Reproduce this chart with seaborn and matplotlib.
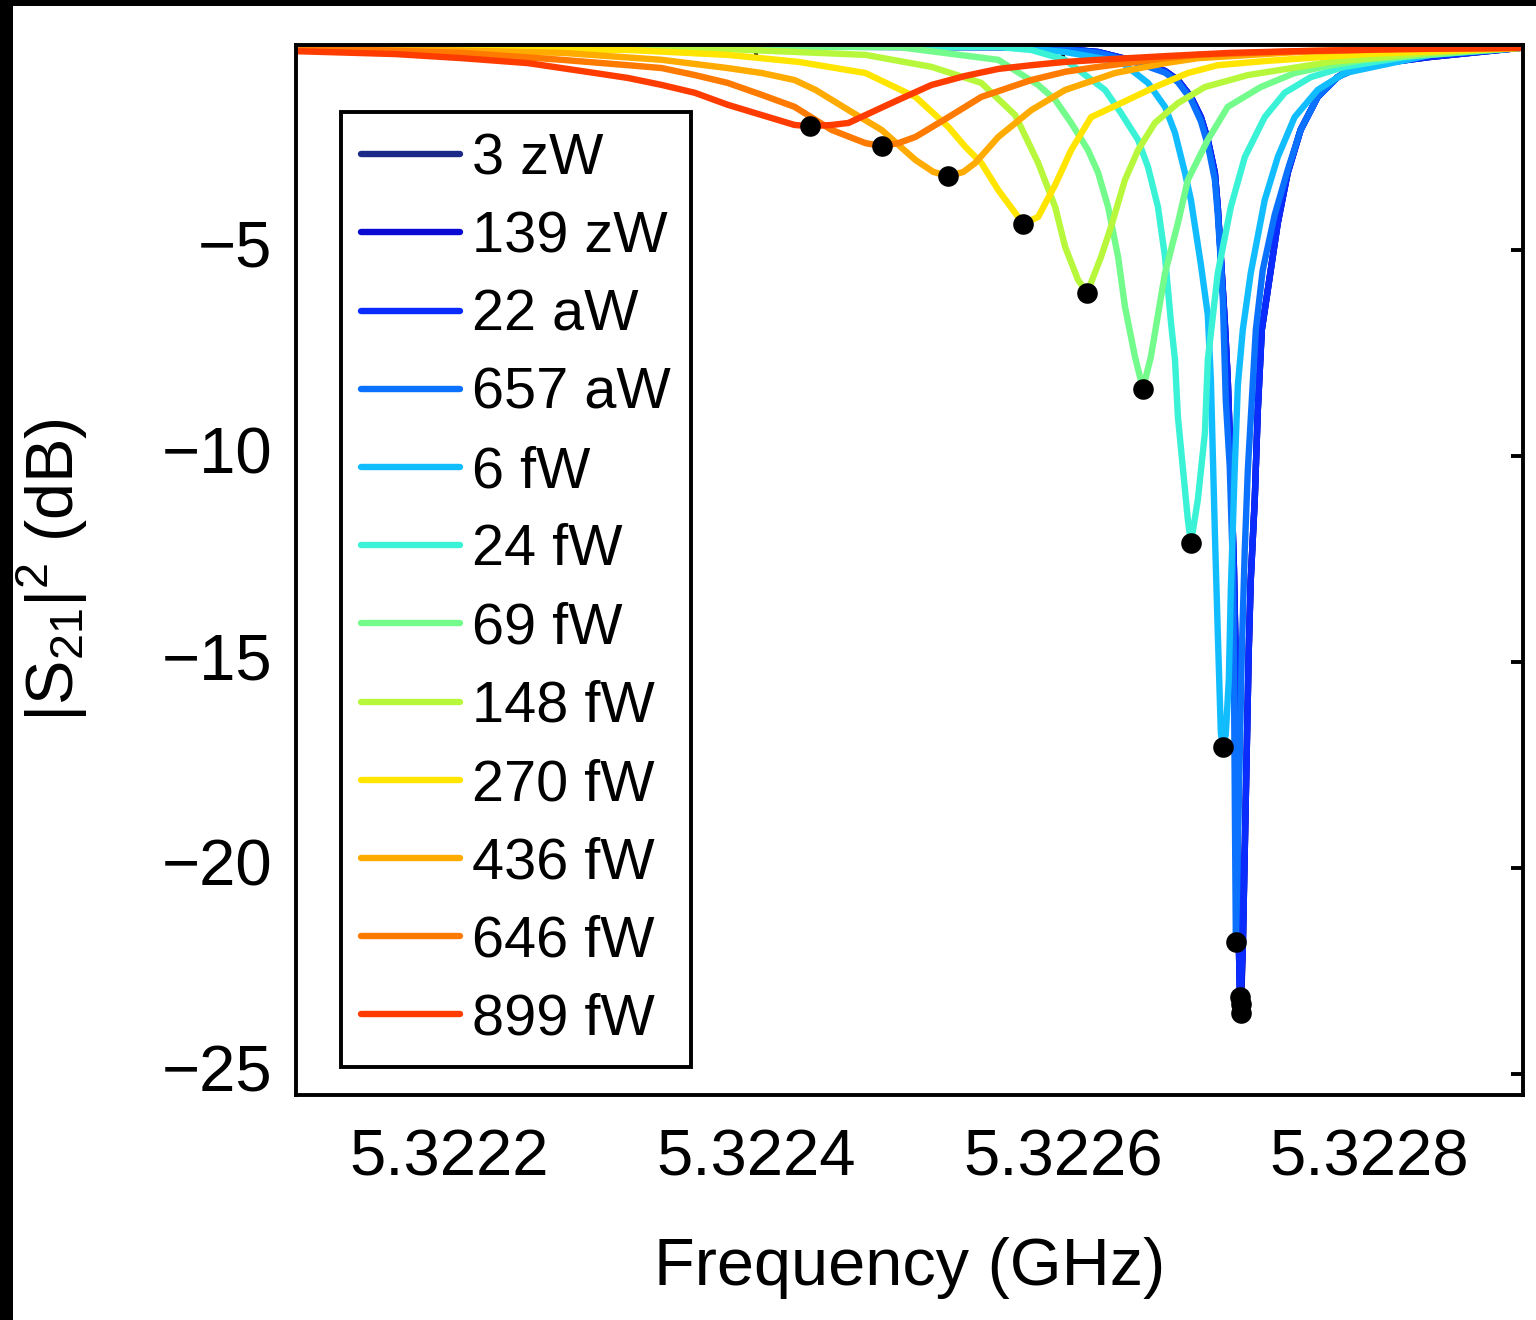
import matplotlib
matplotlib.use("Agg")
import matplotlib.pyplot as plt
import seaborn as sns
import pandas as pd
from matplotlib.patches import Rectangle

# ---------------- data ----------------
powers = ["3 zW", "139 zW", "22 aW", "657 aW", "6 fW", "24 fW", "69 fW",
          "148 fW", "270 fW", "436 fW", "646 fW", "899 fW"]
colors = ["#1b2a88", "#0a0ad2", "#0a2cff", "#0a72ff", "#12bdff", "#3af2d6",
          "#73fb8b", "#b7f83c", "#ffe500", "#ffab00", "#ff7a00", "#ff3c00"]

f_dark = [5.3221, 5.3225579, 5.3226015, 5.3226230, 5.3226490, 5.3226666, 5.3226750,
          5.3226835, 5.3226900, 5.3226945, 5.3226991, 5.3227010, 5.3227030, 5.3227056,
          5.3227075, 5.3227095, 5.3227115, 5.3227128, 5.3227134, 5.3227141, 5.3227147,
          5.3227154, 5.3227160, 5.3227173, 5.3227186, 5.3227199, 5.3227212, 5.3227225,
          5.3227251, 5.3227271, 5.3227297, 5.3227336, 5.3227401, 5.3227466, 5.3227550,
          5.3227661, 5.3227791, 5.3227902, 5.3228396, 5.3228982]
db_3zW = [-0.05, -0.08, -0.13, -0.20, -0.44, -0.66, -0.88, -1.29, -1.78, -2.33, -3.13,
          -3.96, -5.17, -6.77, -8.15, -10.26, -12.68, -15.11, -17.12, -19.55, -21.80,
          -23.00, -23.50, -21.97, -19.55, -17.12, -14.70, -13.00, -11.06, -8.88, -6.94,
          -5.97, -4.35, -3.13, -2.09, -1.29, -0.81, -0.56, -0.32, -0.10]
db_139zW = [-0.05, -0.08, -0.13, -0.20, -0.44, -0.66, -0.88, -1.29, -1.78, -2.33, -3.13,
            -3.96, -5.17, -6.77, -8.15, -10.26, -12.68, -15.11, -17.12, -19.55, -21.80,
            -23.05, -23.30, -21.97, -19.55, -17.12, -14.70, -13.00, -11.06, -8.88, -6.94,
            -5.97, -4.35, -3.13, -2.09, -1.29, -0.81, -0.56, -0.32, -0.10]
db_22aW = [-0.05, -0.08, -0.13, -0.20, -0.44, -0.66, -0.88, -1.29, -1.78, -2.33, -3.13,
           -3.96, -5.17, -6.77, -8.15, -10.26, -12.68, -15.11, -17.12, -19.55, -21.80,
           -23.13, -22.90, -21.90, -19.55, -17.12, -14.70, -13.00, -11.06, -8.88, -6.94,
           -5.97, -4.35, -3.13, -2.09, -1.29, -0.81, -0.56, -0.32, -0.10]

f_657aW = [5.3221, 5.3225579, 5.3226015, 5.3226230, 5.3226490, 5.3226666, 5.3226750,
           5.3226835, 5.3226900, 5.3226945, 5.3226991, 5.3227010, 5.3227030, 5.3227043,
           5.3227062, 5.3227088, 5.3227108, 5.3227115, 5.3227121, 5.3227128, 5.3227141,
           5.3227154, 5.3227167, 5.3227186, 5.3227206, 5.3227232, 5.3227258, 5.3227303,
           5.3227381, 5.3227466, 5.3227550, 5.3227661, 5.3227791, 5.3227967, 5.3228396,
           5.3228982]
db_657aW = [-0.05, -0.08, -0.14, -0.22, -0.47, -0.70, -0.93, -1.35, -1.88, -2.45, -3.30,
            -4.15, -5.30, -6.21, -8.64, -10.26, -12.68, -15.11, -18.33, -21.80, -19.55,
            -17.12, -14.70, -12.27, -10.33, -8.64, -6.94, -5.49, -4.15, -3.06, -2.09,
            -1.29, -0.81, -0.52, -0.27, -0.10]

f_6fW = [5.3221, 5.3225579, 5.3226015, 5.3226379, 5.3226555, 5.3226666, 5.3226731,
         5.3226796, 5.3226835, 5.3226900, 5.3226945, 5.3226965, 5.3226991, 5.3227010,
         5.3227030, 5.3227043, 5.3227062, 5.3227082, 5.3227095, 5.3227121, 5.3227141,
         5.3227173, 5.3227225, 5.3227316, 5.3227401, 5.3227511, 5.3227661, 5.3227837,
         5.3228396, 5.3228982]
db_6fW = [-0.05, -0.05, -0.20, -0.44, -0.95, -1.53, -2.16, -3.13, -3.79, -5.36, -6.58,
          -8.15, -11.86, -14.29, -16.71, -17.07, -16.76, -15.42, -13.24, -10.26, -8.27,
          -6.94, -5.56, -3.79, -2.75, -1.78, -1.12, -0.71, -0.27, -0.10]

f_24fW = [5.3221, 5.3225579, 5.3225794, 5.3226015, 5.3226164, 5.3226275, 5.3226379,
          5.3226490, 5.3226555, 5.3226620, 5.3226666, 5.3226705, 5.3226731, 5.3226750,
          5.3226815, 5.3226835, 5.3226880, 5.3226926, 5.3226945, 5.3227010, 5.3227095,
          5.3227186, 5.3227316, 5.3227446, 5.3227616, 5.3227837, 5.3228396, 5.3228982]
db_24fW = [-0.05, -0.08, -0.15, -0.39, -0.81, -1.12, -1.68, -2.33, -2.99, -3.96, -5.17,
           -6.77, -7.67, -9.05, -11.55, -12.11, -11.06, -9.44, -7.67, -5.56, -3.96,
           -2.75, -1.78, -1.19, -0.81, -0.56, -0.22, -0.10]

f_69fW = [5.3221, 5.3224928, 5.3225579, 5.3225839, 5.3225950, 5.3226054, 5.3226164,
          5.3226230, 5.3226295, 5.3226360, 5.3226405, 5.3226470, 5.3226522, 5.3226574,
          5.3226666, 5.3226750, 5.3226815, 5.3226945, 5.3227075, 5.3227290, 5.3227511,
          5.3227726, 5.3227967, 5.3228618, 5.3228982]
db_69fW = [-0.05, -0.08, -0.39, -1.00, -1.36, -1.92, -2.58, -3.13, -3.96, -5.17, -6.38,
           -7.59, -8.37, -7.59, -5.56, -4.35, -3.30, -2.33, -1.53, -1.05, -0.71, -0.54,
           -0.39, -0.20, -0.10]

f_148fW = [5.3221, 5.3223627, 5.3224713, 5.3225143, 5.3225468, 5.3225689, 5.3225839,
           5.3225950, 5.3226015, 5.3226099, 5.3226158, 5.3226249, 5.3226314, 5.3226405,
           5.3226490, 5.3226600, 5.3226750, 5.3226926, 5.3227206, 5.3227746, 5.3228396,
           5.3228982]
db_148fW = [-0.05, -0.10, -0.27, -0.56, -0.95, -1.73, -2.89, -3.96, -4.93, -5.73, -6.04,
            -5.17, -4.44, -3.30, -2.58, -1.92, -1.44, -1.05, -0.76, -0.44, -0.22, -0.10]

f_270fW = [5.3221, 5.3223165, 5.3223815, 5.3224277, 5.3224713, 5.3225039, 5.3225254,
           5.3225364, 5.3225468, 5.3225579, 5.3225742, 5.3225839, 5.3225950, 5.3226054,
           5.3226184, 5.3226379, 5.3226600, 5.3226815, 5.3227010, 5.3227316, 5.3227967,
           5.3228982]
db_270fW = [-0.08, -0.15, -0.27, -0.44, -0.71, -1.29, -2.02, -2.50, -2.89, -3.55, -4.37,
            -4.20, -3.42, -2.58, -1.78, -1.44, -1.05, -0.71, -0.52, -0.42, -0.25, -0.10]

f_436fW = [5.3221, 5.3222735, 5.3223386, 5.3223815, 5.3224037, 5.3224251, 5.3224388,
           5.3224603, 5.3224818, 5.3225039, 5.3225156, 5.3225254, 5.3225351, 5.3225429,
           5.3225579, 5.3225794, 5.3226015, 5.3226340, 5.3226666, 5.3226880, 5.3227531,
           5.3228182, 5.3228982]
db_436fW = [-0.08, -0.22, -0.39, -0.59, -0.71, -0.88, -1.12, -1.61, -2.09, -2.82, -3.11,
            -3.21, -3.11, -2.89, -2.26, -1.61, -1.12, -0.71, -0.47, -0.35, -0.20, -0.13,
            -0.10]

f_646fW = [5.3221, 5.3222085, 5.3222735, 5.3223165, 5.3223386, 5.3223601, 5.3223815,
           5.3224037, 5.3224251, 5.3224492, 5.3224713, 5.3224818, 5.3224928, 5.3225039,
           5.3225254, 5.3225468, 5.3225794, 5.3226015, 5.3226230, 5.3226666, 5.3226880,
           5.3227531, 5.3228182, 5.3228982]
db_646fW = [-0.10, -0.22, -0.39, -0.52, -0.59, -0.76, -0.95, -1.24, -1.53, -2.09, -2.41,
            -2.48, -2.41, -2.26, -1.78, -1.29, -0.88, -0.68, -0.56, -0.35, -0.27, -0.18,
            -0.13, -0.10]

f_899fW = [5.3221, 5.3221649, 5.3222085, 5.3222514, 5.3222950, 5.3223165, 5.3223386,
           5.3223601, 5.3223815, 5.3224037, 5.3224251, 5.3224349, 5.3224492, 5.3224603,
           5.3224713, 5.3224928, 5.3225143, 5.3225364, 5.3225579, 5.3225794, 5.3226015,
           5.3226230, 5.3226666, 5.3227095, 5.3227531, 5.3228182, 5.3228982]
db_899fW = [-0.18, -0.25, -0.35, -0.47, -0.71, -0.83, -1.00, -1.19, -1.48, -1.73, -1.97,
            -2.00, -1.97, -1.92, -1.73, -1.36, -1.00, -0.78, -0.61, -0.52, -0.44, -0.39,
            -0.30, -0.22, -0.18, -0.13, -0.10]

# resonance minima (black dots)
min_freq = [5.3227160, 5.3227160, 5.3227154, 5.3227128, 5.3227043, 5.3226835,
            5.3226522, 5.3226158, 5.3225742, 5.3225254, 5.3224818, 5.3224349]
min_db = [-23.50, -23.30, -23.13, -21.80, -17.07, -12.11, -8.37, -6.04, -4.37,
          -3.21, -2.48, -2.00]

xtick_vals = [5.3222, 5.3224, 5.3226, 5.3228]
xtick_labels = ["5.3222", "5.3224", "5.3226", "5.3228"]
ytick_vals = [-25, -20, -15, -10, -5]
ytick_labels = ["\u221225", "\u221220", "\u221215", "\u221210", "\u22125"]

curves = [
    ("3 zW", f_dark, db_3zW), ("139 zW", f_dark, db_139zW), ("22 aW", f_dark, db_22aW),
    ("657 aW", f_657aW, db_657aW), ("6 fW", f_6fW, db_6fW), ("24 fW", f_24fW, db_24fW),
    ("69 fW", f_69fW, db_69fW), ("148 fW", f_148fW, db_148fW),
    ("270 fW", f_270fW, db_270fW), ("436 fW", f_436fW, db_436fW),
    ("646 fW", f_646fW, db_646fW), ("899 fW", f_899fW, db_899fW),
]
rows = []
for name, fs, ds in curves:
    for x, y in zip(fs, ds):
        rows.append({"power": name, "freq": x, "s21": y})
df = pd.DataFrame(rows)

# ---------------- style ----------------
sns.set_style("white")
plt.rcParams["font.family"] = ["Liberation Sans", "DejaVu Sans"]
plt.rcParams["mathtext.fontset"] = "custom"
plt.rcParams["mathtext.rm"] = "Liberation Sans"
plt.rcParams["mathtext.it"] = "Liberation Sans:italic"
plt.rcParams["mathtext.default"] = "regular"
for key in ["text.color", "axes.labelcolor", "xtick.color", "ytick.color",
            "axes.edgecolor"]:
    plt.rcParams[key] = "black"

fig = plt.figure(figsize=(15.36, 13.2), dpi=100)
fig.patch.set_facecolor("white")
fig.patches.append(Rectangle((0, 1 - 6 / 1320), 1, 6 / 1320, transform=fig.transFigure,
                             facecolor="black", edgecolor="none", zorder=0))
fig.patches.append(Rectangle((0, 0), 13 / 1536, 1, transform=fig.transFigure,
                             facecolor="black", edgecolor="none", zorder=0))

ax = fig.add_axes([296 / 1536, 1 - 1095 / 1320, 1227 / 1536, 1050 / 1320])

sns.lineplot(data=df, x="freq", y="s21", hue="power", hue_order=powers,
             palette=colors, estimator=None, sort=False, linewidth=4.6, ax=ax)
for ln in ax.lines:
    ln.set_linewidth(4.6)
    ln.set_solid_joinstyle("round")
sns.scatterplot(x=min_freq, y=min_db, color="black", s=220, linewidth=0,
                zorder=5, ax=ax, legend=False)

ax.set_xlim(5.3221, 5.3229)
ax.set_ylim(-25.5, -0.03)
ax.set_xticks(xtick_vals)
ax.set_xticklabels(xtick_labels)
ax.set_yticks(ytick_vals)
ax.set_yticklabels(ytick_labels)
ax.tick_params(axis="both", direction="in", length=9, width=2.8, labelsize=47,
               top=True, right=True, colors="black")
ax.tick_params(axis="y", pad=17)
ax.tick_params(axis="x", pad=24)
for lbl in ax.get_yticklabels():
    lbl.set_verticalalignment("center")
for s in ax.spines.values():
    s.set_linewidth(2.8)
    s.set_color("black")
    s.set_zorder(6)

ax.set_xlabel("Frequency (GHz)", fontsize=48, color="black")
ax.set_ylabel(r"|S$_{21}$|$^{2}$ (dB)", fontsize=48, color="black")
ax.xaxis.set_label_coords(0.5, -0.135)
ax.yaxis.set_label_coords(-0.168, 0.5)

handles, labels = ax.get_legend_handles_labels()
for h in handles:
    h.set_linewidth(4.6)
leg = ax.legend(handles, labels, loc="upper left", bbox_to_anchor=(0.0367, 0.936),
                borderaxespad=0, fontsize=41.5, handlelength=1.72, handletextpad=0.2,
                borderpad=0.35, labelspacing=0.42, fancybox=False, framealpha=1,
                edgecolor="black", labelcolor="black")
leg.get_frame().set_linewidth(2.8)

fig.savefig("out.png", dpi=100, facecolor="white")
